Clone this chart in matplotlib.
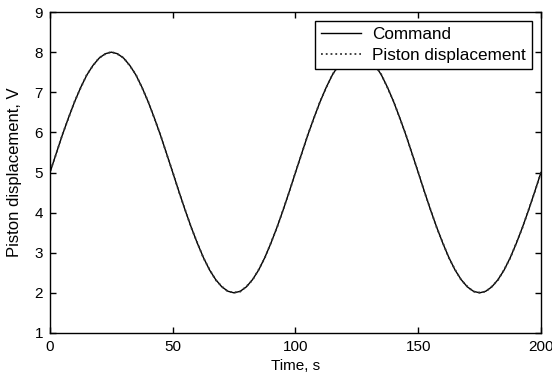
import matplotlib
matplotlib.use("Agg")
import matplotlib.pyplot as plt

plt.rcParams['font.family'] = ['Liberation Sans', 'DejaVu Sans']

# values every 2.5 s
time_s = [i * 2.5 for i in range(81)]
command_v = [
    5.00, 5.47, 5.93, 6.36, 6.76, 7.12, 7.43, 7.67, 7.85, 7.96,
    8.00, 7.96, 7.85, 7.67, 7.43, 7.12, 6.76, 6.36, 5.93, 5.47,
    5.00, 4.53, 4.07, 3.64, 3.24, 2.88, 2.57, 2.33, 2.15, 2.04,
    2.00, 2.04, 2.15, 2.33, 2.57, 2.88, 3.24, 3.64, 4.07, 4.53,
    5.00, 5.47, 5.93, 6.36, 6.76, 7.12, 7.43, 7.67, 7.85, 7.96,
    8.00, 7.96, 7.85, 7.67, 7.43, 7.12, 6.76, 6.36, 5.93, 5.47,
    5.00, 4.53, 4.07, 3.64, 3.24, 2.88, 2.57, 2.33, 2.15, 2.04,
    2.00, 2.04, 2.15, 2.33, 2.57, 2.88, 3.24, 3.64, 4.07, 4.53,
    5.00,
]

# piston starts a little low, then follows the command
piston_time_s = [0.0] + time_s
piston_v = [4.10] + [
    5.02, 5.46, 5.94, 6.35, 6.77, 7.11, 7.44, 7.66, 7.86, 7.95,
    8.01, 7.95, 7.86, 7.66, 7.44, 7.11, 6.77, 6.35, 5.94, 5.46,
    5.01, 4.52, 4.08, 3.63, 3.25, 2.87, 2.58, 2.32, 2.16, 2.03,
    2.01, 2.03, 2.16, 2.32, 2.58, 2.87, 3.25, 3.63, 4.08, 4.52,
    5.01, 5.46, 5.94, 6.35, 6.77, 7.11, 7.44, 7.66, 7.86, 7.95,
    8.01, 7.95, 7.86, 7.66, 7.44, 7.11, 6.77, 6.35, 5.94, 5.46,
    5.01, 4.52, 4.08, 3.63, 3.25, 2.87, 2.58, 2.32, 2.16, 2.03,
    2.01, 2.03, 2.16, 2.32, 2.58, 2.87, 3.25, 3.63, 4.08, 4.52,
    5.00,
]

x_ticks = [0, 50, 100, 150, 200]
y_ticks = [1, 2, 3, 4, 5, 6, 7, 8, 9]

fig = plt.figure(figsize=(5.52, 3.76), dpi=100)
ax = fig.add_axes([0.0906, 0.1144, 0.8894, 0.8536])

ax.plot(time_s, command_v, color="black", linewidth=1.0, label="Command")
ax.plot(piston_time_s, piston_v, color="#333333", linewidth=1.3, linestyle=":",
        label="Piston displacement")

ax.set_xlim(0, 200)
ax.set_ylim(1, 9)
ax.set_xticks(x_ticks)
ax.set_yticks(y_ticks)
ax.tick_params(direction="in", length=4, width=1, top=True, right=True,
               labelsize=11, pad=5)
for spine in ax.spines.values():
    spine.set_linewidth(1.0)

ax.set_xlabel("Time, s", fontsize=11, labelpad=3.5)
ax.set_ylabel("Piston displacement, V", fontsize=12, labelpad=9)

leg = ax.legend(loc="upper right", fontsize=12.3, fancybox=False,
                framealpha=1, edgecolor="black", handlelength=2.3,
                borderaxespad=0.55, borderpad=0.35, labelspacing=0.35,
                handletextpad=0.65)
leg.get_frame().set_linewidth(1.0)

fig.savefig("out.png", dpi=100)
